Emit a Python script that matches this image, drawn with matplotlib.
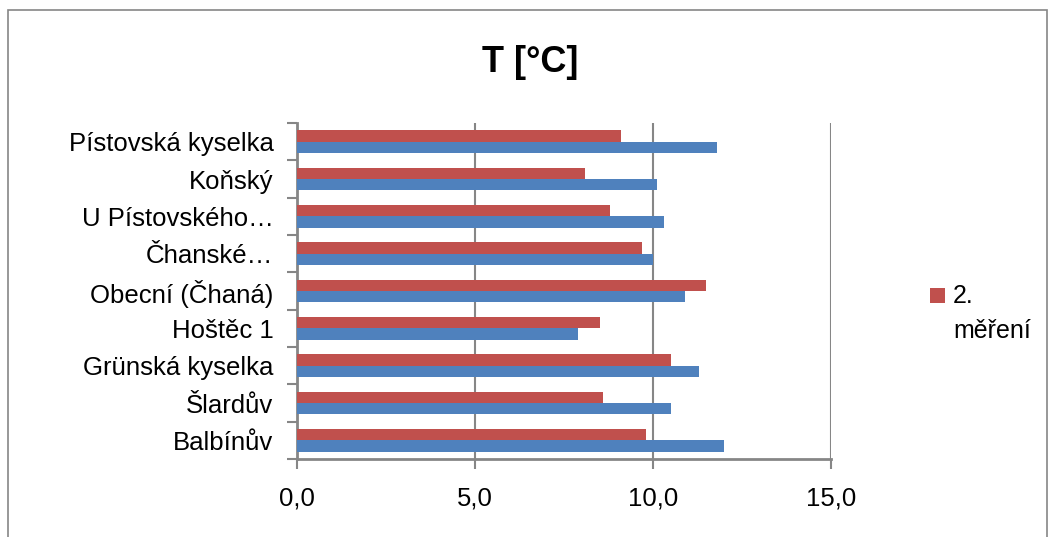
import matplotlib
matplotlib.use("Agg")
import matplotlib.pyplot as plt
from matplotlib.patches import Rectangle
from matplotlib.ticker import FuncFormatter, FixedLocator
import numpy as np

plt.rcParams['font.family'] = ['Liberation Sans', 'DejaVu Sans']

categories = ["Balbínův", "Šlardův", "Grünská kyselka", "Hoštěc 1", "Obecní (Čhaná)",
              "Čhanské…", "U Pístovského…", "Koňský", "Pístovská kyselka"]
mereni1 = [12.0, 10.5, 11.3, 7.9, 10.9, 10.0, 10.3, 10.1, 11.8]
mereni2 = [9.8, 8.6, 10.5, 8.5, 11.5, 9.7, 8.8, 8.1, 9.1]
series_names = ["1. měření", "2. měření"]
title = "T [°C]"

blue = "#4F81BD"
red = "#C0504D"
grey = "#868686"

fig = plt.figure(figsize=(10.55, 5.37), dpi=100)
ax = fig.add_axes([297/1055, 1-459/537, (831-297)/1055, (459-123)/537])

y = np.arange(len(categories))
h = 0.3
ax.barh(y - h/2, mereni1, height=h, color=blue, label=series_names[0], zorder=3)
ax.barh(y + h/2, mereni2, height=h, color=red, label=series_names[1], zorder=3)

ax.set_xlim(0, 15)
ax.set_ylim(-0.5, len(categories) - 0.5)
ax.set_xticks([0, 5, 10, 15])
ax.xaxis.set_major_formatter(FuncFormatter(lambda v, p: f"{v:.1f}".replace(".", ",")))
ax.grid(axis='x', color=grey, linewidth=1.5, zorder=0)

ax.yaxis.set_major_locator(FixedLocator(np.arange(-0.5, len(categories), 1.0)))
ax.yaxis.set_minor_locator(FixedLocator(y))
ax.set_yticklabels([], minor=False)
ax.set_yticklabels(categories, minor=True)
ax.tick_params(axis='y', which='major', length=7, width=1.5, color=grey, direction='out')
ax.tick_params(axis='y', which='minor', length=0, pad=17, labelsize=18.5)
ax.tick_params(axis='x', which='major', length=7, width=1.5, color=grey, direction='out',
               labelsize=18.5, pad=13)

for s in ['top', 'right']:
    ax.spines[s].set_visible(False)
for s in ['left', 'bottom']:
    ax.spines[s].set_color(grey)
    ax.spines[s].set_linewidth(2)

fig.text(530/1055, 1-62/537, title, ha='center', va='center', fontsize=26, fontweight='bold')

# legend (only the second series is shown in the reference)
fig.patches.append(Rectangle((930/1055, 1-303/537), 15/1055, 15/537,
                             transform=fig.transFigure, facecolor=red, edgecolor='none'))
fig.text(953/1055, 1-296/537, "2.", ha='left', va='center', fontsize=18)
fig.text(953/1055, 1-331/537, "měření", ha='left', va='center', fontsize=18)

fig.patches.append(Rectangle((8/1055, -0.1), (1047-8)/1055, 1.1 - 10/537,
                             transform=fig.transFigure, fill=False, edgecolor=grey,
                             linewidth=1.2, zorder=-1))

fig.savefig("out.png", dpi=100)
